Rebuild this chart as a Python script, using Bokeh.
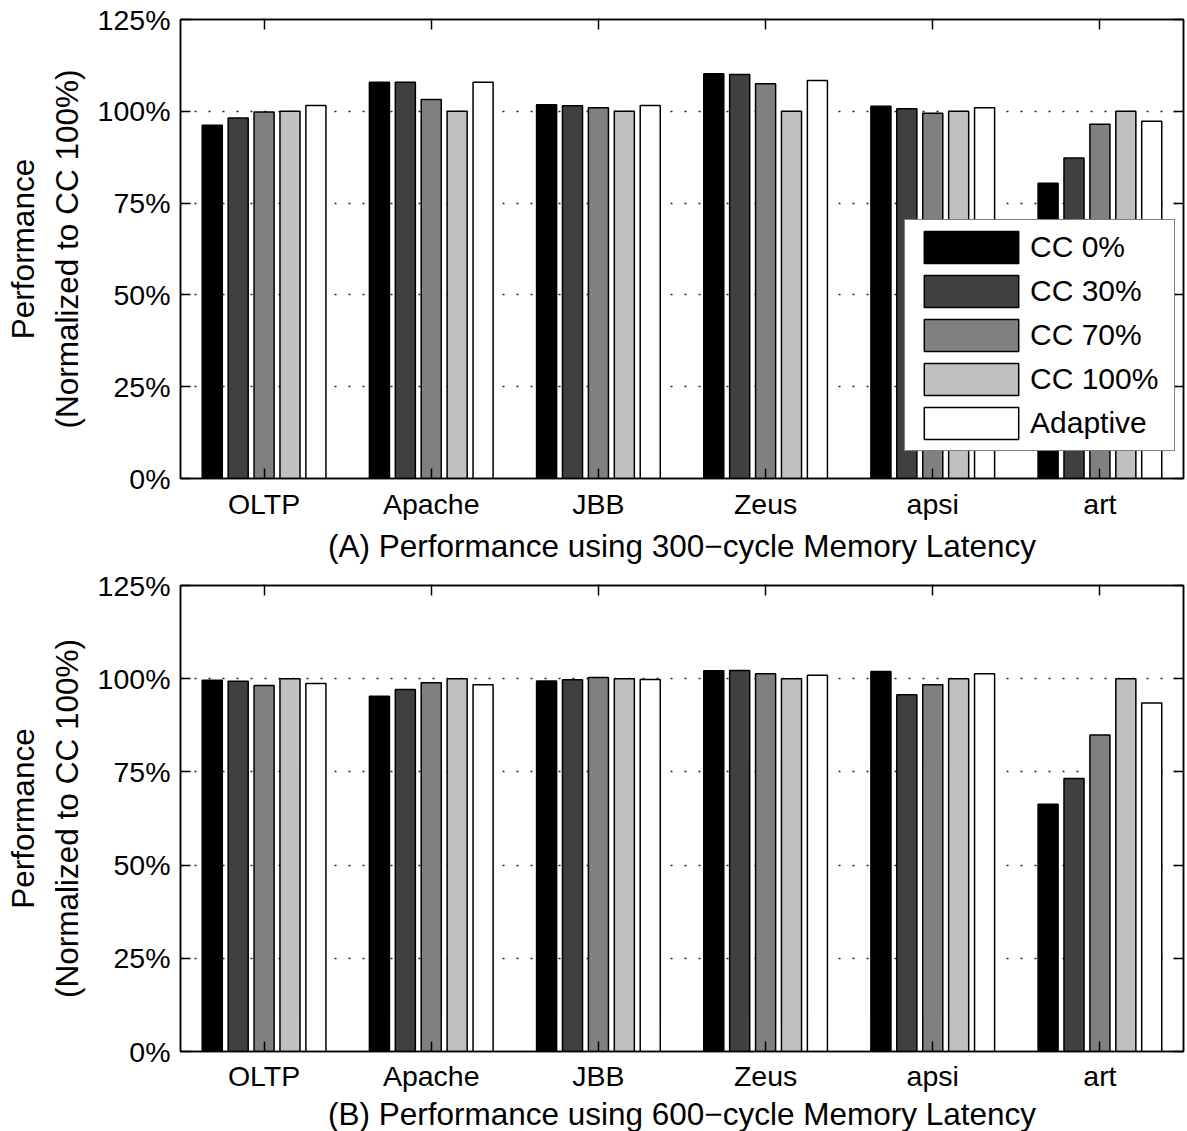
from bokeh.plotting import figure
from bokeh.models import (ColumnDataSource, FactorRange, Range1d, FixedTicker,
                          LinearAxis, CategoricalAxis, PrintfTickFormatter)
from bokeh.transform import dodge
from bokeh.layouts import column
from bokeh.embed import file_html
from bokeh.resources import INLINE

# Benchmarks and cache-compression configurations
categories = ["OLTP", "Apache", "JBB", "Zeus", "apsi", "art"]
series_names = ["CC 0%", "CC 30%", "CC 70%", "CC 100%", "Adaptive"]
series_colors = ["#000000", "#404040", "#808080", "#c0c0c0", "#ffffff"]
y_ticks = [0, 25, 50, 75, 100, 125]

# (A) 300-cycle memory latency, performance normalized to CC 100% (in %)
lat300_cc0 = [96.2, 107.9, 101.8, 110.2, 101.4, 80.4]
lat300_cc30 = [98.2, 107.9, 101.5, 110.0, 100.7, 87.3]
lat300_cc70 = [99.8, 103.2, 101.0, 107.5, 99.5, 96.5]
lat300_cc100 = [100.0, 100.0, 100.0, 100.0, 100.0, 100.0]
lat300_adaptive = [101.6, 107.9, 101.6, 108.4, 101.0, 97.3]

# (B) 600-cycle memory latency
lat600_cc0 = [99.6, 95.3, 99.4, 102.1, 101.9, 66.3]
lat600_cc30 = [99.3, 97.1, 99.7, 102.2, 95.7, 73.2]
lat600_cc70 = [98.2, 98.9, 100.3, 101.3, 98.4, 84.9]
lat600_cc100 = [100.0, 100.0, 100.0, 100.0, 100.0, 100.0]
lat600_adaptive = [98.7, 98.4, 99.8, 100.9, 101.3, 93.5]

FONT = "Liberation Sans"
TICK_SIZE = "28.5px"
LABEL_SIZE = "31.5px"
KEYS = ["s0", "s1", "s2", "s3", "s4"]
OFFSETS = [-0.31, -0.155, 0.0, 0.155, 0.31]
BAR_W = 0.12


def style_axis(ax):
    ax.axis_line_color = "black"
    ax.axis_line_width = 1.5
    ax.major_tick_line_color = "black"
    ax.major_tick_line_width = 1.5
    ax.major_tick_in = 10
    ax.major_tick_out = 0
    ax.minor_tick_line_color = None
    ax.major_label_text_font = FONT
    ax.major_label_text_font_size = TICK_SIZE
    ax.major_label_text_color = "black"
    ax.axis_label_text_font = FONT
    ax.axis_label_text_font_size = LABEL_SIZE
    ax.axis_label_text_font_style = "normal"
    ax.axis_label_text_color = "black"


def box_axis(ax, ticks):
    # Mirror axis that only closes the box with inward ticks
    style_axis(ax)
    ax.major_label_overrides = {t: "" for t in ticks}
    ax.major_label_text_font_size = "1px"
    ax.major_label_standoff = 0
    return ax


def panel(values, xlabel, frame_h, top_b, bottom_b, label_gap, title_gap, legend):
    data = dict(cat=categories)
    for k, v in zip(KEYS, values):
        data[k] = v
    src = ColumnDataSource(data)

    p = figure(x_range=FactorRange(*categories), y_range=Range1d(0, 125),
               frame_width=1003, frame_height=frame_h,
               min_border_left=180, min_border_right=4,
               min_border_top=top_b, min_border_bottom=bottom_b,
               output_backend="svg", toolbar_location=None)
    p.outline_line_color = "black"
    p.outline_line_width = 1.5
    p.background_fill_color = "white"
    p.border_fill_color = "white"

    for k, name, color, off in zip(KEYS, series_names, series_colors, OFFSETS):
        kw = dict(legend_label=name) if legend else {}
        p.vbar(x=dodge("cat", off, range=p.x_range), top=k, bottom=0,
               width=BAR_W, source=src, fill_color=color,
               line_color="black", line_width=1.5, **kw)

    p.xgrid.visible = False
    p.ygrid.ticker = FixedTicker(ticks=y_ticks)
    p.ygrid.grid_line_color = "#222222"
    p.ygrid.grid_line_width = 1.5
    p.ygrid.grid_line_dash = "2 12"

    p.yaxis.ticker = FixedTicker(ticks=y_ticks)
    p.yaxis.formatter = PrintfTickFormatter(format="%d%%")
    p.yaxis.axis_label = "Performance\n(Normalized to CC 100%)"
    p.yaxis.major_label_standoff = 10
    p.yaxis.axis_label_standoff = 10
    p.xaxis.axis_label = xlabel
    p.xaxis.major_label_standoff = label_gap
    p.xaxis.axis_label_standoff = title_gap
    style_axis(p.yaxis[0])
    style_axis(p.xaxis[0])

    p.add_layout(box_axis(LinearAxis(ticker=FixedTicker(ticks=y_ticks)), y_ticks), "right")
    p.add_layout(box_axis(CategoricalAxis(), categories), "above")

    if legend:
        lg = p.legend[0]
        lg.location = (724, 27)
        lg.glyph_width = 118
        lg.glyph_height = 40
        lg.label_height = 40
        lg.label_width = 137
        lg.spacing = 4
        lg.padding = 7
        lg.margin = 0
        lg.label_standoff = 0
        lg.label_text_font = FONT
        lg.label_text_font_size = "30px"
        lg.label_text_color = "black"
        lg.border_line_color = "black"
        lg.border_line_width = 1.5
        lg.background_fill_alpha = 1.0
    return p


top_panel = panel([lat300_cc0, lat300_cc30, lat300_cc70, lat300_cc100, lat300_adaptive],
                  "(A) Performance using 300\u2212cycle Memory Latency",
                  459, 19, 85, 9, 5, True)
bottom_panel = panel([lat600_cc0, lat600_cc30, lat600_cc70, lat600_cc100, lat600_adaptive],
                     "(B) Performance using 600\u2212cycle Memory Latency",
                     466, 19, 81, 8, 1, False)

layout = column(top_panel, bottom_panel, spacing=0)
open("out.html", "w").write(file_html(layout, INLINE))
